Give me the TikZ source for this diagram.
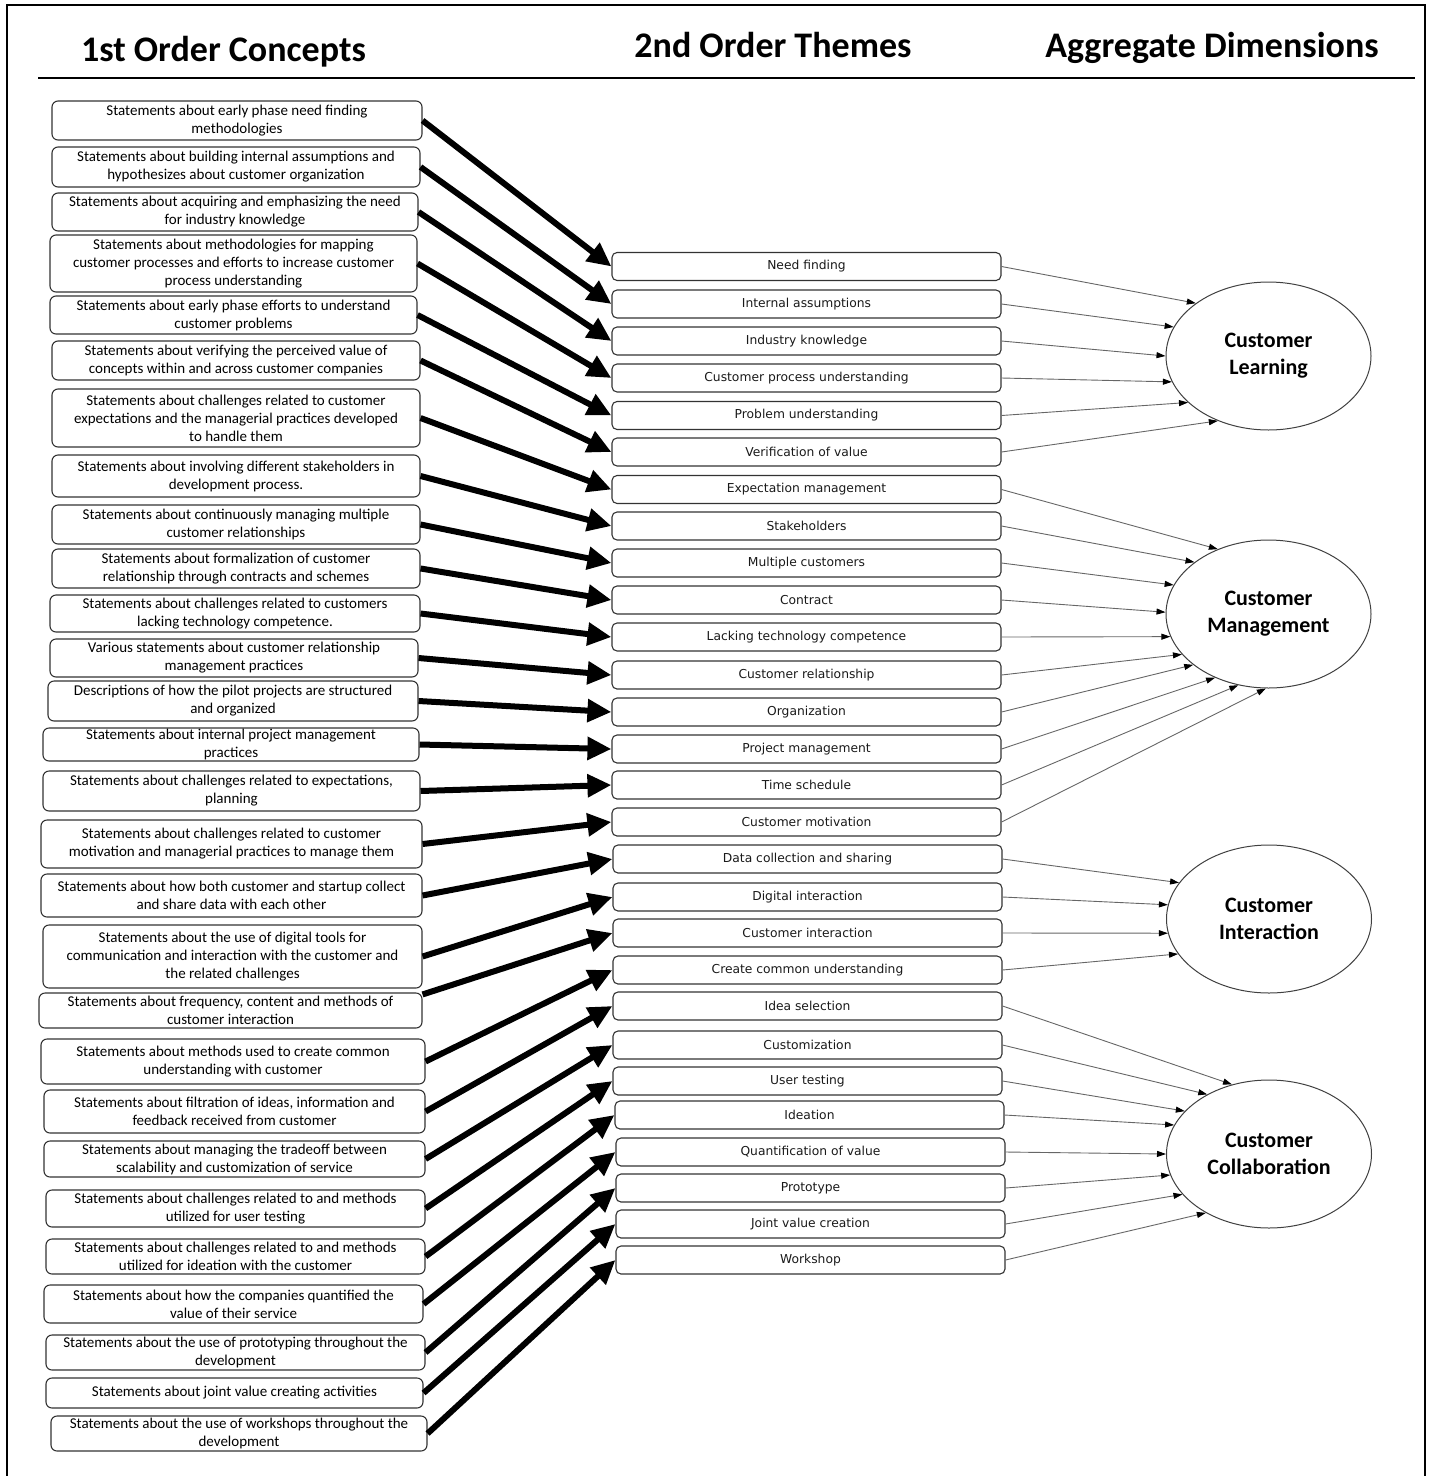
\documentclass[tikz,border=0pt]{standalone}
\usepackage{fontspec}
\setmainfont{Carlito}
\newfontfamily\midfont{DejaVu Sans}
\usetikzlibrary{arrows.meta,shapes.geometric}

\tikzset{
  lbox/.style={draw=black!80, line width=1.1pt, rounded corners=6pt, align=center,
    inner sep=0pt, font=\fontsize{15}{18}\selectfont},
  mbox/.style={draw=black!80, line width=1.1pt, rounded corners=5pt, inner sep=0pt,
    minimum height=28pt, text=black!90, font=\midfont\fontsize{12.3}{14}\selectfont},
  dim/.style={ellipse, draw=black!75, line width=1pt, minimum width=205pt,
    minimum height=148pt, inner sep=0pt, align=center,
    font=\bfseries\fontsize{22}{27}\selectfont},
  head/.style={anchor=base, font=\bfseries\fontsize{36}{40}\selectfont},
  bigarrow/.style={line width=6pt, -{Triangle[length=24pt,width=22pt]}},
  link/.style={draw=black!60, line width=0.9pt,
    -{Triangle[length=9pt,width=6pt,color=black]}},
}

\begin{document}
\begin{tikzpicture}[x=1pt,y=-1pt]
\useasboundingbox (0,0) rectangle (1432,1476);

% frame and header rule
\draw[line width=1.4pt] (7,1476) -- (7,5) -- (1425,5) -- (1425,1476);
\draw[line width=2pt] (38,78) -- (1415,78);

% column headings
\node[head] (h1) at (223.5,61) {1st Order Concepts};
\node[head] (h2) at (773,57) {2nd Order Themes};
\node[head] (h3) at (1212,57) {Aggregate Dimensions};

% first order concepts
\node[lbox, minimum width=370pt, minimum height=39pt] (L1) at (237,120.5) {Statements about early phase need finding\\methodologies};
\node[lbox, minimum width=368pt, minimum height=40pt] (L2) at (236,167) {Statements about building internal assumptions and\\hypothesizes about customer organization};
\node[lbox, minimum width=366pt, minimum height=38pt] (L3) at (235,212) {Statements about acquiring and emphasizing the need\\for industry knowledge};
\node[lbox, minimum width=367pt, minimum height=57pt] (L4) at (233.5,263.5) {Statements about methodologies for mapping\\customer processes and efforts to increase customer\\process understanding};
\node[lbox, minimum width=367pt, minimum height=38pt] (L5) at (233.5,315) {Statements about early phase efforts to understand\\customer problems};
\node[lbox, minimum width=368pt, minimum height=39pt] (L6) at (236,360.5) {Statements about verifying the perceived value of\\concepts within and across customer companies};
\node[lbox, minimum width=368pt, minimum height=58pt] (L7) at (236,418) {Statements about challenges related to customer\\expectations and the managerial practices developed\\to handle them};
\node[lbox, minimum width=368pt, minimum height=42pt] (L8) at (236,476) {Statements about involving different stakeholders in\\development process.};
\node[lbox, minimum width=368pt, minimum height=39pt] (L9) at (236,524.5) {Statements about continuously managing multiple\\customer relationships};
\node[lbox, minimum width=368pt, minimum height=39pt] (L10) at (236,568.5) {Statements about formalization of customer\\relationship through contracts and schemes};
\node[lbox, minimum width=370pt, minimum height=37pt] (L11) at (235,613.5) {Statements about challenges related to customers\\lacking technology competence.};
\node[lbox, minimum width=368pt, minimum height=38pt] (L12) at (234,658) {Various statements about customer relationship\\management practices};
\node[lbox, minimum width=370pt, minimum height=40pt] (L13) at (233,701) {Descriptions of how the pilot projects are structured\\and organized};
\node[lbox, minimum width=376pt, minimum height=33pt] (L14) at (231,744.5) {Statements about internal project management\\practices};
\node[lbox, minimum width=377pt, minimum height=40pt] (L15) at (231.5,791) {Statements about challenges related to expectations,\\planning};
\node[lbox, minimum width=381pt, minimum height=48pt] (L16) at (231.5,844) {Statements about challenges related to customer\\motivation and managerial practices to manage them};
\node[lbox, minimum width=381pt, minimum height=43pt] (L17) at (231.5,895.5) {Statements about how both customer and startup collect\\and share data with each other};
\node[lbox, minimum width=379pt, minimum height=63pt] (L18) at (232.5,956.5) {Statements about the use of digital tools for\\communication and interaction with the customer and\\the related challenges};
\node[lbox, minimum width=383pt, minimum height=35pt] (L19) at (230.5,1010.5) {Statements about frequency, content and methods of\\customer interaction};
\node[lbox, minimum width=384pt, minimum height=45pt] (L20) at (233,1061.5) {Statements about methods used to create common\\understanding with customer};
\node[lbox, minimum width=381pt, minimum height=43pt] (L21) at (234.5,1111.5) {Statements about filtration of ideas, information and\\feedback received from customer};
\node[lbox, minimum width=381pt, minimum height=36pt] (L22) at (234.5,1159) {Statements about managing the tradeoff between\\scalability and customization of service};
\node[lbox, minimum width=379pt, minimum height=37pt] (L23) at (235.5,1208.5) {Statements about challenges related to and methods\\utilized for user testing};
\node[lbox, minimum width=379pt, minimum height=35pt] (L24) at (235.5,1256.5) {Statements about challenges related to and methods\\utilized for ideation with the customer};
\node[lbox, minimum width=379pt, minimum height=38pt] (L25) at (233.5,1304) {Statements about how the companies quantified the\\value of their service};
\node[lbox, minimum width=379pt, minimum height=35pt] (L26) at (235.5,1352.5) {Statements about the use of prototyping throughout the\\development};
\node[lbox, minimum width=377pt, minimum height=30pt] (L27) at (234.5,1393) {Statements about joint value creating activities};
\node[lbox, minimum width=376pt, minimum height=35pt] (L28) at (239,1433.5) {Statements about the use of workshops throughout the\\development};

% second order themes
\node[mbox, minimum width=389pt] (M1) at (806.5,266.5) {Need finding};
\node[mbox, minimum width=389pt] (M2) at (806.5,304) {Internal assumptions};
\node[mbox, minimum width=389pt] (M3) at (806.5,341) {Industry knowledge};
\node[mbox, minimum width=389pt] (M4) at (806.5,378) {Customer process understanding};
\node[mbox, minimum width=389pt] (M5) at (806.5,415.5) {Problem understanding};
\node[mbox, minimum width=389pt] (M6) at (806.5,452) {Verification of value};
\node[mbox, minimum width=389pt] (M7) at (806.5,489.5) {Expectation management};
\node[mbox, minimum width=389pt] (M8) at (806.5,526) {Stakeholders};
\node[mbox, minimum width=389pt] (M9) at (806.5,563) {Multiple customers};
\node[mbox, minimum width=389pt] (M10) at (806.5,600) {Contract};
\node[mbox, minimum width=389pt] (M11) at (806.5,637) {Lacking technology competence};
\node[mbox, minimum width=389pt] (M12) at (806.5,675) {Customer relationship};
\node[mbox, minimum width=389pt] (M13) at (806.5,712) {Organization};
\node[mbox, minimum width=389pt] (M14) at (806.5,749) {Project management};
\node[mbox, minimum width=389pt] (M15) at (806.5,785) {Time schedule};
\node[mbox, minimum width=389pt] (M16) at (806.5,822) {Customer motivation};
\node[mbox, minimum width=389pt] (M17) at (807.5,859) {Data collection and sharing};
\node[mbox, minimum width=389pt] (M18) at (807.5,897) {Digital interaction};
\node[mbox, minimum width=389pt] (M19) at (807.5,933) {Customer interaction};
\node[mbox, minimum width=389pt] (M20) at (807.5,970) {Create common understanding};
\node[mbox, minimum width=389pt] (M21) at (807.5,1006) {Idea selection};
\node[mbox, minimum width=389pt] (M22) at (807.5,1045) {Customization};
\node[mbox, minimum width=389pt] (M23) at (807.5,1081) {User testing};
\node[mbox, minimum width=389pt] (M24) at (809.5,1115) {Ideation};
\node[mbox, minimum width=389pt] (M25) at (810.5,1152) {Quantification of value};
\node[mbox, minimum width=389pt] (M26) at (810.5,1188) {Prototype};
\node[mbox, minimum width=389pt] (M27) at (810.5,1224) {Joint value creation};
\node[mbox, minimum width=389pt] (M28) at (810.5,1260) {Workshop};

% aggregate dimensions
\node[dim] (CL) at (1268.5,356) {Customer\\Learning};
\node[dim] (CM) at (1268.5,614) {Customer\\Management};
\node[dim] (CI) at (1269,919) {Customer\\Interaction};
\node[dim] (CC) at (1269,1154) {Customer\\Collaboration};

% concepts to themes
\foreach \i in {1,...,18,20,21,22,23,24,25,26,27,28}
  \draw[bigarrow] (L\i.east) -- (M\i.west);
\draw[bigarrow] ([yshift=-2pt]L19.north east) -- (M19.west);

% themes to dimensions
\draw[link] (M1.east) -- (CL.144);
\draw[link] (M2.east) -- (CL.163);
\draw[link] (M3.east) -- (CL.180);
\draw[link] (M4.east) -- (CL.195);
\draw[link] (M5.east) -- (CL.210);
\draw[link] (M6.east) -- (CL.232);

\draw[link] (M7.east) -- (CM.128);
\draw[link] (M8.east) -- (CM.145);
\draw[link] (M9.east) -- (CM.163);
\draw[link] (M10.east) -- (CM.179.5);
\draw[link] (M11.east) -- (CM.193.5);
\draw[link] (M12.east) -- (CM.205.5);
\draw[link] (M13.east) -- (CM.214.5);
\draw[link] (M14.east) -- (CM.230.5);
\draw[link] (M15.east) -- (CM.247);
\draw[link] (M16.east) -- (CM.268);

\draw[link] (M17.east) -- (CI.158.5);
\draw[link] (M18.east) -- (CI.172);
\draw[link] (M19.east) -- (CI.188.5);
\draw[link] (M20.east) -- (CI.201.5);

\draw[link] (M21.east) -- (CC.118);
\draw[link] (M22.east) -- (CC.136);
\draw[link] (M23.east) -- (CC.153);
\draw[link] (M24.east) -- (CC.163.5);
\draw[link] (M25.east) -- (CC.180);
\draw[link] (M26.east) -- (CC.192.5);
\draw[link] (M27.east) -- (CC.205.5);
\draw[link] (M28.east) -- (CC.223.5);
\end{tikzpicture}
\end{document}
